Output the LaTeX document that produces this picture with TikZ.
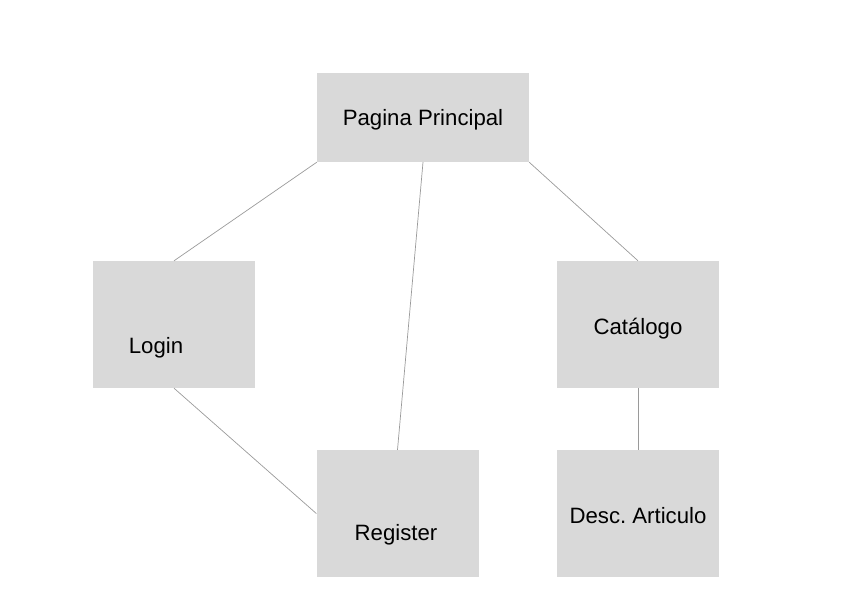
\documentclass[tikz,border=0pt]{standalone}
\usepackage{fontspec}
\setmainfont{Liberation Sans}
\usetikzlibrary{positioning}

\definecolor{boxgray}{HTML}{D9D9D9}
\definecolor{linegray}{HTML}{9A9A9A}

\begin{document}
\begin{tikzpicture}[x=1pt,y=-1pt,
    page/.style={fill=boxgray,draw=none,inner sep=0pt,minimum width=162pt,minimum height=127pt},
    txt/.style={font=\fontsize{22.2}{26}\selectfont,inner sep=0pt},
    link/.style={draw=linegray,line width=0.7pt}]
        \useasboundingbox (0,0) rectangle (843,607);
        \node[page,minimum width=212pt,minimum height=89pt] (main) at (423,117.5) {};
        \node[page] (login) at (174,324.5) {};
        \node[page] (catalog) at (638,324.5) {};
        \node[page] (register) at (397.5,513.5) {};
        \node[page] (desc) at (638,513.5) {};
        \node[txt] (mainT) at (423,120) {Pagina Principal};
        \node[txt] (loginT) at (156,348) {Login};
        \node[txt] (catalogT) at (638,329) {Catálogo};
        \node[txt] (registerT) at (396,535) {Register};
        \node[txt] (descT) at (638,516) {Desc.\ Articulo};
        \draw[link] (main.south west) -- (login.north);
        \draw[link] (main.south) -- (register.north);
        \draw[link] (main.south east) -- (catalog.north);
        \draw[link] (login.south) -- (register.west);
        \draw[link] (catalog.south) -- (desc.north);
    \end{tikzpicture}
\end{document}
